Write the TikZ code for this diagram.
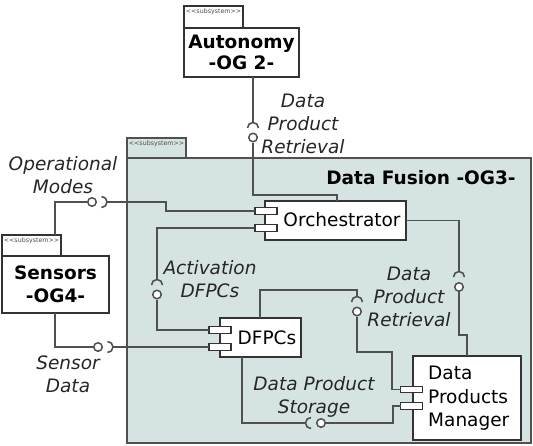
\documentclass[tikz,border=0pt]{standalone}
\usepackage{fontspec}
\setmainfont{DejaVu Sans}
\usetikzlibrary{calc}
\definecolor{dfcol}{HTML}{D6E3E3}
\definecolor{wirecol}{HTML}{505050}
\definecolor{edgecol}{HTML}{333333}
\begin{document}
\begin{tikzpicture}[x=1pt,y=-1pt,
 box/.style={draw=edgecol, line width=1.6pt, fill=white, inner sep=0pt, outer sep=0pt},
 tabbox/.style={box, minimum width=59, anchor=north west},
 stereo/.style={font=\fontsize{6.3}{7}\selectfont, text=black!70, anchor=north, inner sep=0pt},
 title/.style={font=\fontsize{18.5}{21}\selectfont\bfseries, align=center},
 ctext/.style={font=\fontsize{18.5}{23.5}\selectfont, inner sep=0pt},
 port/.style={box, line width=1.2pt, minimum width=22, minimum height=6.5},
 wire/.style={draw=wirecol, line width=1.6pt},
 lolli/.style={circle, draw=wirecol, line width=1.5pt, fill=white, minimum size=8.5, inner sep=0pt},
 lbl/.style={font=\fontsize{18.5}{23}\selectfont\itshape, align=center, text=black!85, inner sep=0pt},
]
\useasboundingbox (0,0) rectangle (533,445);

% Data Fusion subsystem
\node[tabbox, fill=dfcol, draw=wirecol, minimum height=20] (dftab) at (127,138) {};
\node[box, fill=dfcol, draw=wirecol, minimum width=404, minimum height=285, anchor=north west] (df) at (127,158) {};
\node[stereo] (dfst) at ([yshift=-3pt]dftab.north) {{<}{<}subsystem{>}{>}};
\node[title] (dftitle) at (421,178) {Data Fusion -OG3-};

% Autonomy
\node[tabbox, minimum height=22] (autotab) at (184,6) {};
\node[stereo] (autost) at ([yshift=-3pt]autotab.north) {{<}{<}subsystem{>}{>}};
\node[box, title, minimum width=115, minimum height=49, anchor=north west] (auto) at (184,28) {Autonomy\\-OG 2-};

% Sensors
\node[tabbox, minimum height=21] (senstab) at (2,235) {};
\node[stereo] (sensst) at ([yshift=-3pt]senstab.north) {{<}{<}subsystem{>}{>}};
\node[box, title, minimum width=107, minimum height=57, anchor=north west] (sens) at (2,256) {Sensors\\[2pt]-OG4-};

% Components
\node[box, minimum width=141, minimum height=39] (orch) at (335.5,220.5) {};
\node[ctext] (orchtxt) at (342,220) {Orchestrator};
\node[port] (op1) at (266,211) {};
\node[port] (op2) at (266,228) {};

\node[box, minimum width=81, minimum height=39] (dfpc) at (260.5,337.5) {};
\node[ctext] (dfpctxt) at (267,338) {DFPCs};
\node[port] (dp1) at (220,330) {};
\node[port] (dp2) at (220,347) {};

\node[box, minimum width=108, minimum height=84] (dpm) at (467,398) {};
\node[ctext, align=left, anchor=west] (dpmtxt) at (428,398.5) {Data\\Products\\Manager};
\node[port] (mp1) at (411.5,389.5) {};
\node[port] (mp2) at (411.5,406) {};

% Data Product Retrieval (Autonomy)
\coordinate (sk1) at (253,128);
\node[lolli] (c1) at (253,137.5) {};
\draw[wire] (auto.south -| sk1) -- ([yshift=5.5pt]sk1);
\draw[wire] ([xshift=-5.5pt]sk1) arc[start angle=180,end angle=0,radius=5.5pt];
\draw[wire] (c1.south) |- (337,195) -- (orch.north -| 337,0);

% Operational Modes
\node[lolli] (c2) at (92,202) {};
\coordinate (sk2) at (101.5,202);
\draw[wire] (senstab.north -| 55,0) |- (c2.west);
\draw[wire] ([yshift=5.5pt]sk2) arc[start angle=90,end angle=-90,radius=5.5pt];
\draw[wire] ([xshift=5.5pt]sk2) -- (166,202) |- (op1.west);

% Activation DFPCs
\coordinate (sk3) at (157,285);
\draw[wire] (op2.west) -| ([yshift=5.5pt]sk3);
\draw[wire] ([xshift=-5.5pt]sk3) arc[start angle=180,end angle=0,radius=5.5pt];
\node[lolli] (c3) at (157,294.5) {};
\draw[wire] (c3.south) |- (dp1.west);

% Sensor Data
\node[lolli] (c4) at (98,347) {};
\coordinate (sk4) at (107.5,347);
\draw[wire] (sens.south -| 55,0) |- (c4.west);
\draw[wire] ([yshift=5.5pt]sk4) arc[start angle=90,end angle=-90,radius=5.5pt];
\draw[wire] ([xshift=5.5pt]sk4) -- (dp2.west);

% Data Product Retrieval (DFPCs)
\coordinate (sk5) at (357,302);
\draw[wire] (dfpc.north -| 260,0) |- (357,290) -- ([yshift=5.5pt]sk5);
\draw[wire] ([xshift=-5.5pt]sk5) arc[start angle=180,end angle=0,radius=5.5pt];
\node[lolli] (c5) at (357,311.5) {};
\draw[wire] (c5.south) |- (392,352) |- (mp1.west);

% Data Product Retrieval (Orchestrator)
\coordinate (sk6) at (459,277);
\draw[wire] (orch.east) -| ([yshift=5.5pt]sk6);
\draw[wire] ([xshift=-5.5pt]sk6) arc[start angle=180,end angle=0,radius=5.5pt];
\node[lolli] (c6) at (459,287) {};
\draw[wire] (c6.south) |- (467,335) -- (dpm.north);

% Data Product Storage
\coordinate (sk7) at (311,423);
\draw[wire] (dfpc.south -| 242,0) |- ([xshift=-5.5pt]sk7);
\draw[wire] ([yshift=5.5pt]sk7) arc[start angle=90,end angle=270,radius=5.5pt];
\node[lolli] (c7) at (321,423) {};
\draw[wire] (c7.east) -| (393,406) -- (mp2.west);

% Labels
\node[lbl] (lb1) at (303,124) {Data\\Product\\Retrieval};
\node[lbl] (lb2) at (63,175) {Operational\\Modes};
\node[lbl] (lb3) at (68,374) {Sensor\\Data};
\node[lbl] (lb4) at (210,279) {Activation\\DFPCs};
\node[lbl] (lb5) at (409,297) {Data\\Product\\Retrieval};
\node[lbl] (lb6) at (314,397) {Data Product\\Storage};
\end{tikzpicture}
\end{document}
